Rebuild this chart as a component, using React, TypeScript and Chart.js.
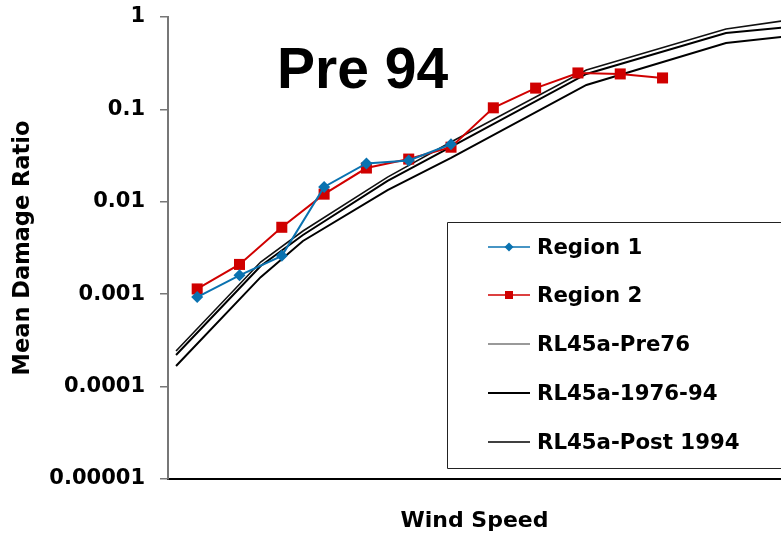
import React, { useEffect, useRef } from "react";
import { Chart, registerables } from "chart.js";
Chart.register(...registerables);

// Wind speed steps (index units; axis has no numeric labels)
const regionSpeeds = [0, 1, 2, 3, 4, 5, 6, 7, 8, 9, 10, 11];
const region1 = [0.00093, 0.0016, 0.0026, 0.0145, 0.026, 0.028, 0.042];
const region2 = [0.00114, 0.0021, 0.0053, 0.0121, 0.0232, 0.029, 0.039, 0.104, 0.17, 0.248, 0.242, 0.219];

const curveSpeeds = [-0.5, 1.5, 2.5, 4.5, 6, 9.2, 12.5, 14];
const rlPre76 = [0.000243, 0.00223, 0.00483, 0.0185, 0.0444, 0.267, 0.741, 0.929];
const rl1976_94 = [0.00022, 0.00202, 0.00437, 0.0168, 0.0392, 0.242, 0.671, 0.78];
const rlPost1994 = [0.000167, 0.00153, 0.00377, 0.0134, 0.0298, 0.184, 0.523, 0.623];

const yTickValues = [1, 0.1, 0.01, 0.001, 0.0001, 0.00001];
const yTickLabels = ["1", "0.1", "0.01", "0.001", "0.0001", "0.00001"];

const seriesNames = ["Region 1", "Region 2", "RL45a-Pre76", "RL45a-1976-94", "RL45a-Post 1994"];
const chartTitle = "Pre 94";
const xTitle = "Wind Speed";
const yTitle = "Mean Damage Ratio";

const BLUE = "#0a72b0";
const RED = "#d00000";
const FONT = "'DejaVu Sans', Verdana, sans-serif";

const pts = (xs: number[], ys: number[]) => ys.map((y, i) => ({ x: xs[i], y }));

const overlayPlugin = {
  id: "overlay",
  afterDraw(chart: any) {
    const { ctx, chartArea } = chart;
    ctx.save();
    // Title inside plot
    ctx.fillStyle = "#000";
    ctx.font = "bold 57px 'Liberation Sans', Arial, sans-serif";
    ctx.textAlign = "left";
    ctx.textBaseline = "alphabetic";
    ctx.fillText(chartTitle, chartArea.left + 109, 88);

    // Legend box
    const bx = 447.5, by = 222.5, bb = 468.5;
    ctx.strokeStyle = "#222";
    ctx.lineWidth = 1;
    ctx.fillStyle = "#fff";
    ctx.beginPath();
    ctx.rect(bx, by, 800 - bx, bb - by);
    ctx.fill();
    ctx.stroke();

    const rowY = [247, 295, 344, 393, 442];
    const x0 = 488, x1 = 530, tx = 537;
    const styles = [
      { c: BLUE, w: 1.5, m: "diamond" },
      { c: RED, w: 1.5, m: "square" },
      { c: "#777", w: 1.5, m: "" },
      { c: "#000", w: 2, m: "" },
      { c: "#000", w: 1.5, m: "" },
    ];
    ctx.font = `bold 21.3px ${FONT}`;
    ctx.textBaseline = "middle";
    seriesNames.forEach((name, i) => {
      const y = rowY[i];
      const s = styles[i];
      ctx.strokeStyle = s.c;
      ctx.lineWidth = s.w;
      ctx.beginPath();
      ctx.moveTo(x0, y);
      ctx.lineTo(x1, y);
      ctx.stroke();
      const cx = (x0 + x1) / 2;
      ctx.fillStyle = s.c;
      if (s.m === "diamond") {
        ctx.beginPath();
        ctx.moveTo(cx, y - 4.5);
        ctx.lineTo(cx + 4.5, y);
        ctx.lineTo(cx, y + 4.5);
        ctx.lineTo(cx - 4.5, y);
        ctx.closePath();
        ctx.fill();
      } else if (s.m === "square") {
        ctx.fillRect(cx - 4, y - 4, 8, 8);
      }
      ctx.fillStyle = "#000";
      ctx.fillText(name, tx, y + 1);
    });
    ctx.restore();
  },
};

export default function App() {
  const ref = useRef<HTMLCanvasElement>(null);
  useEffect(() => {
    const canvas = ref.current;
    if (!canvas) return;
    const chart = new Chart(canvas, {
      type: "line",
      data: {
        datasets: [
          {
            label: seriesNames[0],
            data: pts(regionSpeeds, region1),
            borderColor: BLUE,
            backgroundColor: BLUE,
            borderWidth: 2,
            pointStyle: "rectRot",
            pointRadius: 6,
            pointBorderWidth: 0,
          },
          {
            label: seriesNames[1],
            data: pts(regionSpeeds, region2),
            borderColor: RED,
            backgroundColor: RED,
            borderWidth: 2,
            pointStyle: "rect",
            pointRadius: 7.8,
            pointBorderWidth: 0,
          },
          {
            label: seriesNames[2],
            data: pts(curveSpeeds, rlPre76),
            borderColor: "#111",
            borderWidth: 1.6,
            pointRadius: 0,
          },
          {
            label: seriesNames[3],
            data: pts(curveSpeeds, rl1976_94),
            borderColor: "#000",
            borderWidth: 2,
            pointRadius: 0,
          },
          {
            label: seriesNames[4],
            data: pts(curveSpeeds, rlPost1994),
            borderColor: "#000",
            borderWidth: 2,
            pointRadius: 0,
          },
        ],
      },
      options: {
        animation: false,
        responsive: false,
        devicePixelRatio: 1,
        layout: { autoPadding: false, padding: { top: 17, left: 0, right: 0, bottom: 0 } },
        plugins: { legend: { display: false }, tooltip: { enabled: false }, title: { display: false } },
        scales: {
          x: {
            type: "linear",
            min: -0.69,
            max: 13.8,
            grid: { display: false },
            ticks: { display: false },
            border: { display: true, color: "#000", width: 2 },
            title: {
              display: true,
              text: xTitle,
              color: "#000",
              font: { family: FONT, size: 22, weight: "bold" },
              padding: { top: 0, bottom: 3 },
            },
            afterFit: (s: any) => {
              s.height = 58;
              s.paddingLeft = 0;
              s.paddingRight = 0;
            },
          },
          y: {
            type: "logarithmic",
            min: 0.00001,
            max: 1,
            afterBuildTicks: (s: any) => {
              s.ticks = yTickValues.map((v) => ({ value: v }));
            },
            grid: { drawOnChartArea: false, drawTicks: true, tickLength: 8, color: "#777", lineWidth: 1.5 },
            border: { display: true, color: "#777", width: 2 },
            ticks: {
              color: "#000",
              padding: 15,
              font: { family: FONT, size: 21, weight: "bold" },
              callback: (v: any) => {
                const i = yTickValues.indexOf(Number(v));
                return i >= 0 ? yTickLabels[i] : "";
              },
            },
            title: {
              display: true,
              text: yTitle,
              color: "#000",
              font: { family: FONT, size: 22.5, weight: "bold" },
              padding: { top: 10, bottom: 0 },
            },
            afterFit: (s: any) => {
              s.width = 168;
              s.paddingTop = 0;
              s.paddingBottom = 0;
            },
          },
        },
      },
      plugins: [overlayPlugin],
    } as any);
    return () => chart.destroy();
  }, []);
  return (
    <div style={{ position: "fixed", left: 0, top: 0, width: 781, height: 537, background: "#fff" }}>
      <canvas ref={ref} width={781} height={537} style={{ display: "block", width: 781, height: 537 }} />
    </div>
  );
}
